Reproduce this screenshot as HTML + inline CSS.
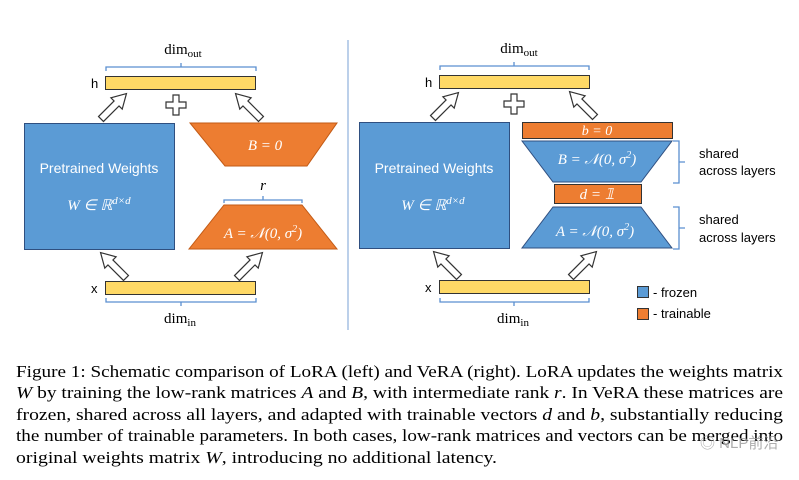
<!DOCTYPE html>
<html><head><meta charset="utf-8"><style>
html,body{margin:0;padding:0;background:#fff;width:799px;height:480px;overflow:hidden}
svg{display:block}
.s{font-family:"Liberation Sans",sans-serif}
.m{font-family:"Liberation Serif",serif;font-style:italic}
.r{font-family:"Liberation Serif",serif}
.cap{font-family:"Liberation Serif",serif;font-size:17px}
</style></head><body>
<svg width="799" height="480" viewBox="0 0 799 480" xmlns="http://www.w3.org/2000/svg">
<defs>
<polygon id="ar" points="-3.5,0 3.5,0 3.5,-22 8,-22 0,-36 -8,-22 -3.5,-22" fill="#fff" stroke="#333" stroke-width="1.2"/>
<polygon id="pl" points="-3,-10 3,-10 3,-3 10,-3 10,3 3,3 3,10 -3,10 -3,3 -10,3 -10,-3 -3,-3" fill="#fff" stroke="#333" stroke-width="1.2"/>
</defs>
<!-- LEFT -->
<text x="183" y="54" class="r" font-size="15" text-anchor="middle">dim<tspan font-size="11" dy="3">out</tspan></text>
<path d="M106,71 v-4 h150 v4 M181,67 v-4" fill="none" stroke="#5b8fd0" stroke-width="1.3"/>
<text x="91" y="88" class="s" font-size="13">h</text>
<rect x="105.5" y="76.5" width="150" height="13" fill="#ffd966" stroke="#333"/>
<use href="#ar" transform="translate(101,119) rotate(45)"/>
<use href="#ar" transform="translate(261,119) rotate(-45)"/>
<use href="#pl" transform="translate(176,105)"/>
<rect x="24.5" y="123.5" width="150" height="126" fill="#5b9bd5" stroke="#2f4f80"/>
<text x="99" y="173" class="s" font-size="14" fill="#fff" text-anchor="middle">Pretrained Weights</text>
<text x="99" y="210" class="m" font-size="15" fill="#fff" text-anchor="middle">W ∈ ℝ<tspan font-size="11" dy="-6">d×d</tspan></text>
<polygon points="190,123 337,123 307,166 225,166" fill="#ed7d31" stroke="#c25a15"/>
<text x="265" y="150" class="m" font-size="15" fill="#fff" text-anchor="middle">B = 0</text>
<text x="263" y="190" class="m" font-size="15" text-anchor="middle">r</text>
<path d="M224,203 v-3 h78 v3 M263,200 v-4" fill="none" stroke="#5b8fd0" stroke-width="1.3"/>
<polygon points="224,205 302,205 337,249 189,249" fill="#ed7d31" stroke="#c25a15"/>
<text x="263" y="238" class="m" font-size="15" fill="#fff" text-anchor="middle">A = 𝒩(0, σ<tspan font-size="10" dy="-6">2</tspan><tspan dy="6">)</tspan></text>
<use href="#ar" transform="translate(126,278) rotate(-45)"/>
<use href="#ar" transform="translate(237,278) rotate(45)"/>
<text x="91" y="293" class="s" font-size="13">x</text>
<rect x="105.5" y="281.5" width="150" height="13" fill="#ffd966" stroke="#333"/>
<path d="M106,298 v4 h150 v-4 M181,302 v4" fill="none" stroke="#5b8fd0" stroke-width="1.3"/>
<text x="180" y="323" class="r" font-size="15" text-anchor="middle">dim<tspan font-size="11" dy="3">in</tspan></text>
<!-- divider -->
<line x1="348" y1="40" x2="348" y2="330" stroke="#8fb0dc" stroke-width="1.2"/>
<!-- RIGHT -->
<text x="519" y="53" class="r" font-size="15" text-anchor="middle">dim<tspan font-size="11" dy="3">out</tspan></text>
<path d="M440,70 v-4 h149 v4 M514,66 v-4" fill="none" stroke="#5b8fd0" stroke-width="1.3"/>
<text x="425" y="87" class="s" font-size="13">h</text>
<rect x="439.5" y="75.5" width="150" height="13" fill="#ffd966" stroke="#333"/>
<use href="#ar" transform="translate(433,118) rotate(45)"/>
<use href="#ar" transform="translate(595,117) rotate(-45)"/>
<use href="#pl" transform="translate(514,104)"/>
<rect x="359.5" y="122.5" width="150" height="126" fill="#5b9bd5" stroke="#2f4f80"/>
<text x="434" y="173" class="s" font-size="14" fill="#fff" text-anchor="middle">Pretrained Weights</text>
<text x="433" y="210" class="m" font-size="15" fill="#fff" text-anchor="middle">W ∈ ℝ<tspan font-size="11" dy="-6">d×d</tspan></text>
<rect x="522.5" y="122.5" width="150" height="16" fill="#ed7d31" stroke="#333"/>
<text x="597" y="135" class="m" font-size="14" fill="#fff" text-anchor="middle">b = 0</text>
<polygon points="522,141 672,141 641,182 553,182" fill="#5b9bd5" stroke="#2f4f80"/>
<text x="597" y="164" class="m" font-size="15" fill="#fff" text-anchor="middle">B = 𝒩(0, σ<tspan font-size="10" dy="-6">2</tspan><tspan dy="6">)</tspan></text>
<rect x="554.5" y="184.5" width="87" height="19" fill="#ed7d31" stroke="#333"/>
<text x="597" y="199" class="m" font-size="15" fill="#fff" text-anchor="middle">d = 𝟙</text>
<polygon points="553,207 641,207 672,248 522,248" fill="#5b9bd5" stroke="#2f4f80"/>
<text x="595" y="236" class="m" font-size="15" fill="#fff" text-anchor="middle">A = 𝒩(0, σ<tspan font-size="10" dy="-6">2</tspan><tspan dy="6">)</tspan></text>
<path d="M673,141 h6 v21 h6 M679,162 v21 h-6 M673,207 h6 v21 h6 M679,228 v21 h-6" fill="none" stroke="#5b8fd0" stroke-width="1.3"/>
<text x="699" y="158" class="s" font-size="13">shared</text>
<text x="699" y="175" class="s" font-size="13">across layers</text>
<text x="699" y="224" class="s" font-size="13">shared</text>
<text x="699" y="242" class="s" font-size="13">across layers</text>
<use href="#ar" transform="translate(459,277) rotate(-45)"/>
<use href="#ar" transform="translate(571,277) rotate(45)"/>
<text x="425" y="292" class="s" font-size="13">x</text>
<rect x="439.5" y="280.5" width="150" height="13" fill="#ffd966" stroke="#333"/>
<path d="M440,298 v4 h149 v-4 M514,302 v4" fill="none" stroke="#5b8fd0" stroke-width="1.3"/>
<text x="513" y="323" class="r" font-size="15" text-anchor="middle">dim<tspan font-size="11" dy="3">in</tspan></text>
<rect x="637.5" y="286.5" width="11" height="11" fill="#5b9bd5" stroke="#333"/>
<text x="653" y="297" class="s" font-size="13">- frozen</text>
<rect x="637.5" y="308.5" width="11" height="11" fill="#ed7d31" stroke="#333"/>
<text x="653" y="318" class="s" font-size="13">- trainable</text>
<!-- caption -->
<text class="cap" x="16" y="377" textLength="767" lengthAdjust="spacingAndGlyphs">Figure 1: Schematic comparison of LoRA (left) and VeRA (right). LoRA updates the weights matrix</text>
<text class="cap" x="16" y="398" textLength="767" lengthAdjust="spacingAndGlyphs"><tspan font-style="italic">W</tspan> by training the low-rank matrices <tspan font-style="italic">A</tspan> and <tspan font-style="italic">B</tspan>, with intermediate rank <tspan font-style="italic">r</tspan>. In VeRA these matrices are</text>
<text class="cap" x="16" y="420" textLength="767" lengthAdjust="spacingAndGlyphs">frozen, shared across all layers, and adapted with trainable vectors <tspan font-style="italic">d</tspan> and <tspan font-style="italic">b</tspan>, substantially reducing</text>
<text class="cap" x="16" y="441" textLength="767" lengthAdjust="spacingAndGlyphs">the number of trainable parameters. In both cases, low-rank matrices and vectors can be merged into</text>
<text class="cap" x="16" y="463" textLength="481" lengthAdjust="spacingAndGlyphs">original weights matrix <tspan font-style="italic">W</tspan>, introducing no additional latency.</text>
<text x="700" y="448" font-family="Liberation Sans,'Noto Sans CJK SC',sans-serif" font-size="15" fill="#999" opacity="0.8">◎ NLP前沿</text>
</svg>
</body></html>
